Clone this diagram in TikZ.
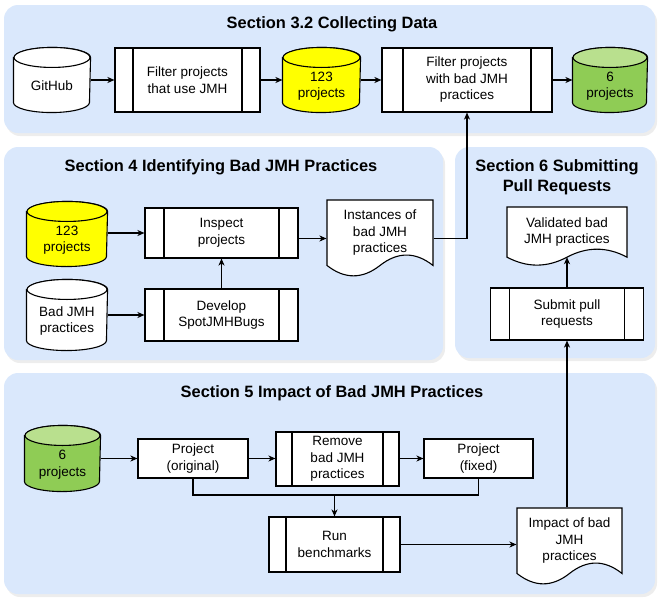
\documentclass[tikz,border=0pt]{standalone}
\usepackage{fontspec}
\setmainfont{Liberation Sans}
\usetikzlibrary{arrows.meta,calc}
\definecolor{panel}{HTML}{DAE8FC}
\definecolor{ylw}{HTML}{FFFF00}
\definecolor{grn}{HTML}{8FCC55}
\definecolor{grnl}{HTML}{B9E08E}
\newcommand\mycyl[8]{% name, cx, cy, w, h, body fill, top fill, text
 \node[ghost, minimum width=#4pt, minimum height=#5pt] (#1) at (#2,-#3) {};
 \draw[lw, fill=#6] ([yshift=-10pt]#1.north west) -- ([yshift=10pt]#1.south west)
   arc[start angle=180, end angle=360, x radius=#4/2*1pt, y radius=10pt]
   -- ([yshift=-10pt]#1.north east)
   arc[start angle=0, end angle=180, x radius=#4/2*1pt, y radius=10pt] -- cycle;
 \draw[lw, fill=#7] ([yshift=-10pt]#1.north) ellipse[x radius=#4/2*1pt, y radius=10pt];
 \node[txt] (#1t) at (#2,-#3-6) {#8};
}
\newcommand\mydoc[6]{% name, cx, top, w, h, text
 \pgfmathsetmacro\docL{#2-#4/2}\pgfmathsetmacro\docR{#2+#4/2}
 \pgfmathsetmacro\docT{-#3}\pgfmathsetmacro\docB{-#3-#5}
 \pgfmathsetmacro\docD{0.3*#5}
 \node[ghost, minimum width=#4pt, minimum height=#5pt] (#1) at (#2,{-#3-#5/2}) {};
 \draw[lw, fill=white] (\docL,\docT) -- (\docR,\docT) -- (\docR,\docB+0.5*\docD)
   .. controls (\docR-#4/6,\docB+1.1*\docD) and (\docL+2*#4/3,\docB+1.1*\docD) .. (#2,\docB+0.5*\docD)
   .. controls (\docL+#4/3,\docB-0.1*\docD) and (\docL+#4/6,\docB-0.1*\docD) .. (\docL,\docB+0.5*\docD) -- cycle;
 \coordinate (#1-bot) at (#2,\docB+0.5*\docD);
 \node[txt] (#1t) at (#2,{-#3-0.425*#5}) {#6};
}
\begin{document}
\begin{tikzpicture}[x=1pt,y=1pt,
 lw/.style={line width=1.1pt},
 txt/.style={font=\fontsize{13.5}{16.5}\selectfont, align=center, inner sep=0pt},
 ttl/.style={font=\fontsize{16.4}{20}\selectfont\bfseries, align=center, inner sep=0pt},
 box/.style={draw, lw, fill=white, inner sep=2pt, align=center, font=\fontsize{13.5}{16.5}\selectfont},
 proc/.style={box, path picture={\draw[line width=1.1pt]
   ([xshift=#1]path picture bounding box.north west) -- ([xshift=#1]path picture bounding box.south west)
   ([xshift=-#1]path picture bounding box.north east) -- ([xshift=-#1]path picture bounding box.south east);}},
 proc/.default=18pt,
 ghost/.style={inner sep=0pt, outer sep=0.55pt, draw=none, fill=none},
 arr/.style={lw, -{Stealth[length=7pt,width=6pt,inset=2pt]}},
 conn/.style={lw},
 pnl/.style={fill=panel, rounded corners=14pt},
 shd/.style={fill=black, opacity=0.07, rounded corners=14pt}]
\useasboundingbox (0,0) rectangle (658,-597);
% panels
\fill[shd] (6,-8) rectangle (657,-136);
\fill[pnl] (4,-5) rectangle (655,-133);
\fill[shd] (6,-150) rectangle (445,-363);
\fill[pnl] (4,-147) rectangle (443,-360);
\fill[shd] (457,-150) rectangle (657,-361);
\fill[pnl] (455,-147) rectangle (655,-358);
\fill[shd] (6,-376) rectangle (657,-597);
\fill[pnl] (4,-373) rectangle (655,-594);
% titles
\node[ttl] (t32) at (332,-24) {Section 3.2 Collecting Data};
\node[ttl] (t4) at (221,-167) {Section 4 Identifying Bad JMH Practices};
\node[ttl] (t6) at (557,-177) {Section 6 Submitting\\Pull Requests};
\node[ttl] (t5) at (332,-393) {Section 5 Impact of Bad JMH Practices};
% Section 3.2
\mycyl{gh}{52}{80}{76}{64}{white}{white}{GitHub}
\node[proc, minimum width=145pt, minimum height=64pt] (fp1) at (187.5,-80) {Filter projects\\that use JMH};
\mycyl{ya}{321.5}{80}{77}{64}{ylw}{ylw}{123\\projects}
\node[proc=21pt, minimum width=170pt, minimum height=64pt] (fp2) at (467,-80) {Filter projects\\with bad JMH\\practices};
\mycyl{ga}{610}{80}{74}{64}{grn}{grnl}{6\\projects}
\draw[arr] (gh.east) -- (fp1.west);
\draw[arr] (fp1.east) -- (ya.west);
\draw[arr] (ya.east) -- (fp2.west);
\draw[arr] (fp2.east) -- (ga.west);
% Section 4
\mycyl{yb}{67}{234}{80}{64}{ylw}{ylw}{123\\projects}
\mycyl{bp}{67}{315}{80}{70}{white}{white}{Bad JMH\\practices}
\node[proc=19pt, minimum width=153pt, minimum height=50pt] (insp) at (221.5,-233) {Inspect\\projects};
\node[proc=19pt, minimum width=153pt, minimum height=52pt] (dev) at (221.5,-315) {Develop\\SpotJMHBugs};
\mydoc{inst}{380}{200}{106}{77}{Instances of\\bad JMH\\practices}
\draw[arr] (yb.east |- insp.west) -- (insp.west);
\draw[arr] (bp.east |- dev.west) -- (dev.west);
\draw[arr] (dev.north) -- (insp.south);
\draw[arr] (insp.east |- inst.west) -- (inst.west);
\draw[arr] (inst.east) -| (fp2.south);
% Section 6
\mydoc{val}{567}{207}{120}{59}{Validated bad\\JMH practices}
\node[proc=19pt, minimum width=153pt, minimum height=52pt] (sub) at (567,-314) {Submit pull\\requests};
\draw[arr] (sub.north) -- (val-bot);
% Section 5
\mycyl{gb}{62.5}{458.5}{75}{65}{grn}{grnl}{6\\projects}
\node[box, minimum width=110pt, minimum height=39pt] (orig) at (193,-458.5) {Project\\(original)};
\node[proc=16pt, minimum width=123pt, minimum height=54pt] (rem) at (337.5,-459) {Remove\\bad JMH\\practices};
\node[box, minimum width=109pt, minimum height=39pt] (fix) at (478.5,-458.5) {Project\\(fixed)};
\node[proc=17pt, minimum width=131pt, minimum height=55pt] (run) at (334.5,-544.5) {Run\\benchmarks};
\mydoc{imp}{569.5}{508}{105}{77}{Impact of bad\\JMH\\practices}
\coordinate (jn) at (334.5,-495);
\draw[arr] (gb.east |- orig.west) -- (orig.west);
\draw[arr] (orig.east) -- (orig.east -| rem.west);
\draw[arr] (rem.east |- fix.west) -- (fix.west);
\draw[conn] (orig.south) |- (jn);
\draw[conn] (fix.south) |- (jn);
\draw[arr] (jn) -- (run.north);
\draw[arr] (run.east) -- (run.east -| imp.west);
\draw[arr] (sub.south |- imp.north) -- (sub.south);
\end{tikzpicture}
\end{document}
